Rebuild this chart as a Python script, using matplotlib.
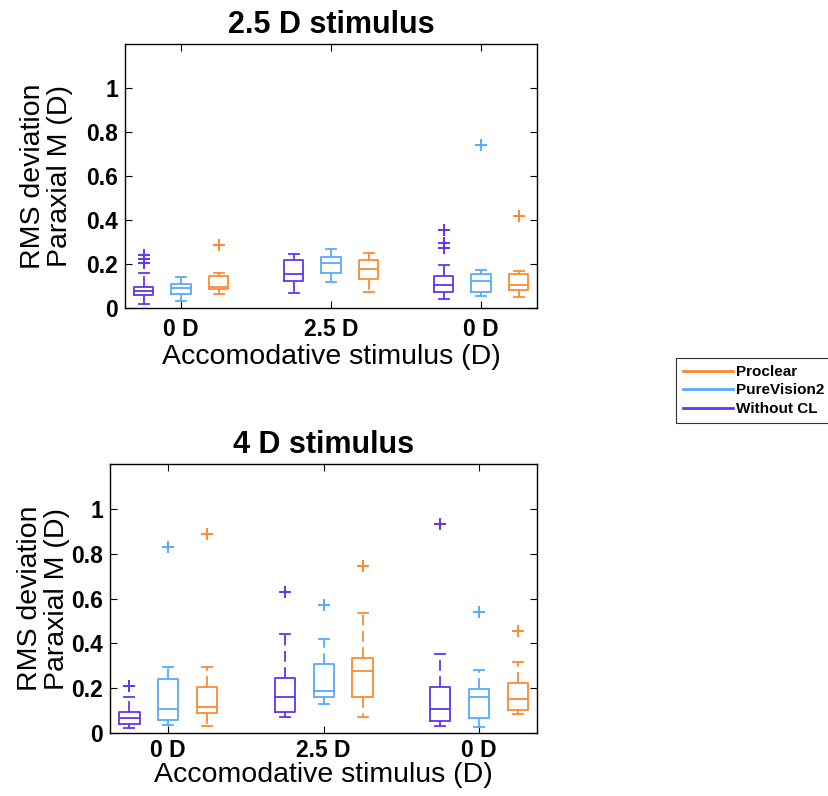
import matplotlib
matplotlib.use("Agg")
import matplotlib.pyplot as plt
from matplotlib.lines import Line2D

plt.rcParams['font.family'] = ['Liberation Sans', 'DejaVu Sans']

# ---------------- data ----------------
group_labels = ["0 D", "2.5 D", "0 D"]
series_names = ["Without CL", "PureVision2", "Proclear"]
series_colors = ["#6233f2", "#55aaff", "#ff8833"]

# each entry: (whisker_low, q1, median, q3, whisker_high, [outliers])
# 2.5 D stimulus
top_without = [(0.018, 0.059, 0.077, 0.097, 0.158, [0.240, 0.222, 0.203]),
               (0.068, 0.124, 0.155, 0.218, 0.245, []),
               (0.041, 0.073, 0.103, 0.145, 0.194, [0.355, 0.297, 0.272])]
top_pv2 = [(0.032, 0.062, 0.089, 0.109, 0.140, []),
           (0.117, 0.158, 0.206, 0.233, 0.268, []),
           (0.055, 0.071, 0.124, 0.155, 0.173, [0.741])]
top_proclear = [(0.064, 0.088, 0.094, 0.147, 0.158, [0.285]),
                (0.071, 0.130, 0.177, 0.220, 0.250, []),
                (0.050, 0.080, 0.105, 0.155, 0.167, [0.418])]

# 4 D stimulus
bot_without = [(0.023, 0.042, 0.068, 0.093, 0.159, [0.211]),
               (0.071, 0.093, 0.161, 0.245, 0.441, [0.630]),
               (0.033, 0.053, 0.106, 0.207, 0.352, [0.932])]
bot_pv2 = [(0.035, 0.060, 0.106, 0.239, 0.295, [0.831]),
           (0.128, 0.159, 0.189, 0.307, 0.418, [0.569]),
           (0.026, 0.068, 0.159, 0.196, 0.282, [0.541])]
bot_proclear = [(0.030, 0.087, 0.118, 0.207, 0.295, [0.887]),
                (0.073, 0.159, 0.275, 0.335, 0.536, [0.743]),
                (0.083, 0.103, 0.151, 0.224, 0.317, [0.456])]

titles = ["2.5 D stimulus", "4 D stimulus"]
ylabel = "RMS deviation\nParaxial M (D)"
xlabel = "Accomodative stimulus (D)"
yticks = [0, 0.2, 0.4, 0.6, 0.8, 1]
ytick_labels = ["0", "0.2", "0.4", "0.6", "0.8", "1"]

# ---------------- drawing ----------------
fig = plt.figure(figsize=(8.29, 7.96), dpi=100)
ax_top = fig.add_axes([125/829, 1-308/796, 412/829, 264/796])
ax_bot = fig.add_axes([110/829, 1-733/796, 427/829, 269/796])

offsets = [-0.25, 0.0, 0.25]
box_w = 0.13
cap_w = 0.065


def draw(ax, data_sets, title, ylab_x, xlab_pad, xtick_pad):
    for s, (series, col) in enumerate(zip(data_sets, series_colors)):
        stats = []
        for (wl, q1, med, q3, wh, fl) in series:
            stats.append(dict(whislo=wl, q1=q1, med=med, q3=q3, whishi=wh, fliers=fl))
        pos = [g + 1 + offsets[s] for g in range(len(series))]
        ax.bxp(stats, positions=pos, widths=box_w, capwidths=cap_w,
               showfliers=True, manage_ticks=False,
               boxprops=dict(color=col, lw=1.3),
               medianprops=dict(color=col, lw=1.3),
               whiskerprops=dict(color=col, lw=1.3, linestyle=(0, (6, 3))),
               capprops=dict(color=col, lw=1.3),
               flierprops=dict(marker='+', markeredgecolor=col, markersize=8,
                               markeredgewidth=1.4, linestyle='none'))
    ax.set_xlim(0.625, 3.372)
    ax.set_ylim(0, 1.2)
    ax.set_xticks([1, 2, 3])
    ax.set_xticklabels(group_labels, fontsize=16.5, fontweight='bold')
    ax.set_yticks(yticks)
    ax.set_yticklabels(ytick_labels, fontsize=16.5, fontweight='bold')
    ax.tick_params(direction='in', top=True, right=True, length=5, width=0.8, pad=5)
    ax.tick_params(axis='x', pad=xtick_pad)
    for sp in ax.spines.values():
        sp.set_linewidth(1.0)
    ax.set_title(title, fontsize=22, fontweight='bold', pad=8)
    ax.set_xlabel(xlabel, fontsize=20.5, labelpad=xlab_pad)
    ax.set_ylabel(ylabel, fontsize=20.5, linespacing=1.05)
    ax.yaxis.set_label_coords(ylab_x, 0.5)


draw(ax_top, [top_without, top_pv2, top_proclear], titles[0], (73-125)/412, 2, 7)
draw(ax_bot, [bot_without, bot_pv2, bot_proclear], titles[1], (70-110)/427, 0, 4)

handles = [Line2D([], [], color=series_colors[2], lw=2),
           Line2D([], [], color=series_colors[1], lw=2),
           Line2D([], [], color=series_colors[0], lw=2)]
labels = [series_names[2], series_names[1], series_names[0]]
leg = fig.legend(handles, labels, loc='upper left',
                 bbox_to_anchor=(676/829, 1-358/796),
                 prop=dict(size=11, weight='bold'), frameon=True, fancybox=False,
                 handlelength=3.3, handletextpad=0.15, borderpad=0.45,
                 labelspacing=0.3, borderaxespad=0)
leg.get_frame().set_edgecolor('black')
leg.get_frame().set_linewidth(0.8)

fig.savefig("out.png", dpi=100)
